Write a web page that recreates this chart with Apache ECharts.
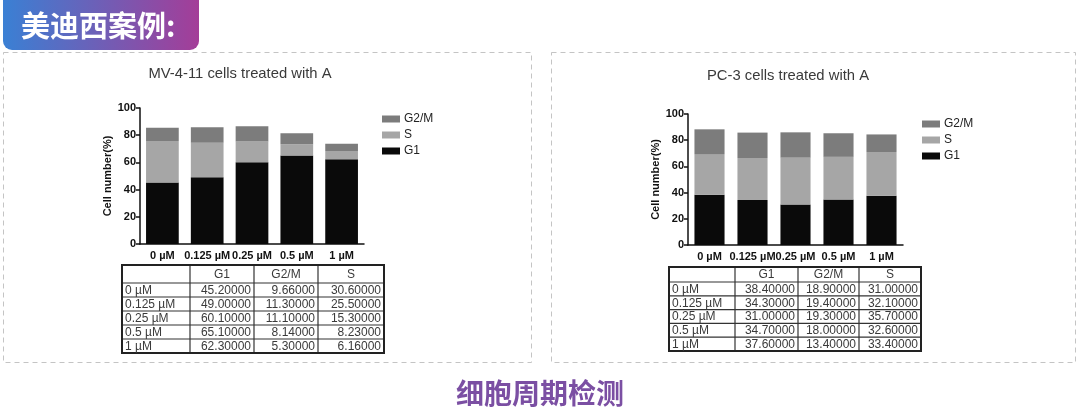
<!DOCTYPE html>
<html>
<head>
<meta charset="utf-8">
<script src="https://cdn.jsdelivr.net/npm/echarts@6/dist/echarts.min.js"></script>
<style>html,body{margin:0;padding:0;background:#fff}#c{width:1080px;height:420px}</style>
</head>
<body>
<div id="c"></div>
<script>
// ---- data ----
var categories = ['0 µM', '0.125 µM', '0.25 µM', '0.5 µM', '1 µM'];
var phases = ['G1', 'G2/M', 'S'];
var mvG1 = [45.2, 49.0, 60.1, 65.1, 62.3];
var mvG2M = [9.66, 11.3, 11.1, 8.14, 5.3];
var mvS = [30.6, 25.5, 15.3, 8.23, 6.16];
var pcG1 = [38.4, 34.3, 31.0, 34.7, 37.6];
var pcG2M = [18.9, 19.4, 19.3, 18.0, 13.4];
var pcS = [31.0, 32.1, 35.7, 32.6, 33.4];
var yTicks = [0, 20, 40, 60, 80, 100];
var titleLeft = 'MV-4-11 cells treated with A';
var titleRight = 'PC-3 cells treated with A';
var badgeText = '美迪西案例:';
var footerText = '细胞周期检测';
var yName = 'Cell number(%)';

// ---- styles ----
var FONT = '"Liberation Sans", Arial, sans-serif';
var CG1 = '#0a0a0a', CS = '#a6a6a6', CG2 = '#7c7c7c';

var chart = echarts.init(document.getElementById('c'), null, {renderer: 'canvas'});

function yAxis(gi) {
  return {
    type: 'value', gridIndex: gi, min: yTicks[0], max: yTicks[yTicks.length - 1], interval: 20,
    name: yName, nameLocation: 'middle', nameGap: 27,
    nameTextStyle: {fontFamily: FONT, fontWeight: 'bold', fontSize: 11, color: '#111'},
    axisLine: {show: true, lineStyle: {color: '#111', width: 1.5}},
    axisTick: {show: true, inside: false, length: 4, lineStyle: {color: '#111', width: 1.5}},
    axisLabel: {fontFamily: FONT, fontWeight: 'bold', fontSize: 11, color: '#111', margin: 4},
    splitLine: {show: false}
  };
}
function xAxis(gi) {
  return {
    type: 'category', gridIndex: gi, data: categories,
    axisLine: {show: true, lineStyle: {color: '#111', width: 1.5}},
    axisTick: {show: false},
    axisLabel: {fontFamily: FONT, fontWeight: 'bold', fontSize: 11, color: '#111', interval: 0, hideOverlap: false, margin: 6}
  };
}
function bars(gi, g1, s, g2, gap) {
  var base = {type: 'bar', xAxisIndex: gi, yAxisIndex: gi, stack: 'st' + gi, barCategoryGap: gap, animation: false};
  return [
    Object.assign({}, base, {name: 'G1', data: g1, itemStyle: {color: CG1}}),
    Object.assign({}, base, {name: 'S', data: s, itemStyle: {color: CS}}),
    Object.assign({}, base, {name: 'G2/M', data: g2, itemStyle: {color: CG2}})
  ];
}
function legend(left, top) {
  return {
    orient: 'vertical', left: left, top: top, icon: 'rect', itemWidth: 18, itemHeight: 7, itemGap: 4,
    data: ['G2/M', 'S', 'G1'], selectedMode: false,
    textStyle: {fontFamily: FONT, fontSize: 12, color: '#222', padding: [0, 0, 0, -1]}
  };
}

// ---- table via graphic ----
function table(x, y, colW, headH, rowH, cols) {
  var els = [];
  var totalW = colW.reduce(function (a, b) { return a + b; }, 0);
  var totalH = headH + rowH * categories.length;
  var cx = [x];
  for (var i = 0; i < colW.length; i++) cx.push(cx[i] + colW[i]);
  for (var i = 1; i < colW.length; i++) {
    els.push({type: 'line', shape: {x1: cx[i], y1: y, x2: cx[i], y2: y + totalH}, style: {stroke: '#333', lineWidth: 1.2}});
  }
  for (var r = 0; r < categories.length; r++) {
    var yy = y + headH + r * rowH;
    els.push({type: 'line', shape: {x1: x, y1: yy, x2: x + totalW, y2: yy}, style: {stroke: '#333', lineWidth: 1.2}});
  }
  els.push({type: 'rect', shape: {x: x, y: y, width: totalW, height: totalH}, style: {fill: 'none', stroke: '#222', lineWidth: 2}});
  for (var c = 0; c < phases.length; c++) {
    els.push({type: 'text', x: (cx[c + 1] + cx[c + 2]) / 2, y: y + headH / 2 + 0.5,
      style: {text: phases[c], fontFamily: FONT, fontSize: 12, fill: '#3a3a3a', align: 'center', verticalAlign: 'middle'}});
  }
  for (var r = 0; r < categories.length; r++) {
    var ym = y + headH + r * rowH + rowH / 2 + 0.5;
    els.push({type: 'text', x: x + 3, y: ym,
      style: {text: categories[r], fontFamily: FONT, fontSize: 12, fill: '#3a3a3a', align: 'left', verticalAlign: 'middle'}});
    for (var c = 0; c < phases.length; c++) {
      els.push({type: 'text', x: cx[c + 2] - 3, y: ym,
        style: {text: cols[c][r].toFixed(5), fontFamily: FONT, fontSize: 12, fill: '#3a3a3a', align: 'right', verticalAlign: 'middle'}});
    }
  }
  return els;
}

var graphics = [];
graphics.push({type: 'rect', shape: {x: 3.5, y: 52.5, width: 528, height: 310}, style: {fill: 'none', stroke: '#c4c4c4', lineWidth: 1, lineDash: [5, 4]}});
graphics.push({type: 'rect', shape: {x: 551.5, y: 52.5, width: 524, height: 310}, style: {fill: 'none', stroke: '#c4c4c4', lineWidth: 1, lineDash: [5, 4]}});
graphics.push({type: 'rect', shape: {x: 3, y: -8, width: 196, height: 58, r: 9},
  style: {fill: {type: 'linear', x: 0, y: 0, x2: 1, y2: 0, colorStops: [{offset: 0, color: '#3a80d4'}, {offset: 1, color: '#a43d98'}]}}});
graphics.push({type: 'text', x: 21, y: 26, style: {text: badgeText, fontFamily: '"Noto Sans CJK SC", sans-serif', fontWeight: 'bold', fontSize: 29, fill: '#fff', verticalAlign: 'middle'}});
graphics.push({type: 'text', x: 540, y: 393, style: {text: footerText, fontFamily: '"Noto Sans CJK SC", sans-serif', fontWeight: 'bold', fontSize: 28, fill: '#7b4fa3', align: 'center', verticalAlign: 'middle'}});
graphics = graphics.concat(table(122, 265, [68, 64, 64, 66], 18, 14, [mvG1, mvG2M, mvS]));
graphics = graphics.concat(table(669, 267, [66, 63, 61, 62], 15, 13.8, [pcG1, pcG2M, pcS]));

var option = {
  backgroundColor: '#fff',
  animation: false,
  title: [
    {text: titleLeft, left: 235, top: 61, textAlign: 'center', textStyle: {fontFamily: FONT, fontSize: 14.8, fontWeight: 'normal', color: '#3a3a3a'}},
    {text: titleRight, left: 783, top: 63, textAlign: 'center', textStyle: {fontFamily: FONT, fontSize: 14.8, fontWeight: 'normal', color: '#3a3a3a'}}
  ],
  legend: [legend(377, 108), legend(917, 113)],
  grid: [
    {left: 140, top: 108, width: 224, height: 136, containLabel: false},
    {left: 688, top: 114, width: 215, height: 131, containLabel: false}
  ],
  xAxis: [xAxis(0), xAxis(1)],
  yAxis: [yAxis(0), yAxis(1)],
  series: bars(0, mvG1, mvS, mvG2M, '27%').concat(bars(1, pcG1, pcS, pcG2M, '30%')),
  graphic: graphics
};
chart.setOption(option);
</script>
</body>
</html>
